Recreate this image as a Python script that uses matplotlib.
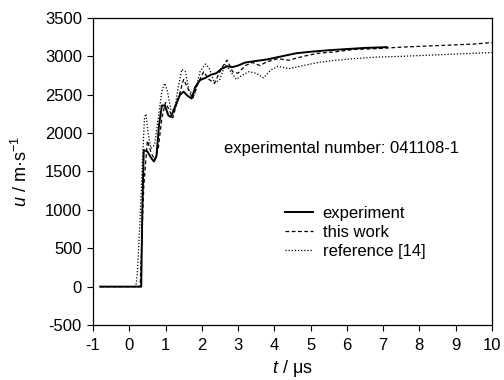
import numpy as np
import matplotlib
matplotlib.use('Agg')
import matplotlib.pyplot as plt

plt.rcParams['font.family'] = ['Liberation Sans', 'DejaVu Sans']
plt.rcParams['mathtext.fontset'] = 'custom'
plt.rcParams['mathtext.rm'] = 'Liberation Sans'
plt.rcParams['mathtext.it'] = 'Liberation Sans:italic'
plt.rcParams['axes.unicode_minus'] = False

# experiment (solid)
t_exp = [-0.8, 0.33, 0.36, 0.4, 0.5, 0.6, 0.68, 0.75, 0.82, 0.9, 0.98, 1.08, 1.15,
         1.25, 1.4, 1.5, 1.6, 1.72, 1.82, 1.95, 2.1, 2.25, 2.4, 2.55, 2.7, 2.85,
         3.0, 3.2, 3.5, 3.8, 4.2, 4.6, 5.0, 5.5, 6.0, 6.5, 7.1]
u_exp = [0, 0, 1000, 1780, 1760, 1680, 1630, 1700, 2100, 2360, 2360, 2230, 2210,
         2330, 2500, 2540, 2490, 2450, 2600, 2690, 2720, 2760, 2780, 2840, 2870, 2860,
         2880, 2920, 2940, 2960, 3000, 3040, 3060, 3080, 3095, 3110, 3120]

# this work (dashed)
t_work = [-0.8, 0.3, 0.4, 0.5, 0.6, 0.7, 0.8, 0.9, 1.0, 1.1, 1.2, 1.35, 1.5, 1.6,
          1.75, 1.9, 2.05, 2.2, 2.35, 2.55, 2.7, 2.85, 3.0, 3.2, 3.4, 3.6, 3.8,
          4.1, 4.4, 4.8, 5.2, 5.7, 6.2, 6.8, 7.5, 8.0, 8.5, 9.0, 9.5, 10.0]
u_work = [0, 0, 1300, 1900, 1750, 1650, 1800, 2200, 2400, 2300, 2200, 2450, 2700, 2600,
          2450, 2650, 2800, 2700, 2650, 2850, 2950, 2800, 2780, 2880, 2920, 2880, 2930,
          2970, 2950, 3000, 3040, 3060, 3090, 3100, 3120, 3130, 3140, 3150, 3160, 3180]

# reference [14] (dotted)
t_ref = [-0.8, 0.18, 0.22, 0.3, 0.36, 0.42, 0.46, 0.52, 0.6, 0.7, 0.8, 0.9, 0.98,
         1.05, 1.15, 1.25, 1.35, 1.45, 1.55, 1.65, 1.8, 1.95, 2.1, 2.2, 2.35, 2.5,
         2.65, 2.8, 2.95, 3.1, 3.3, 3.5, 3.7, 3.9, 4.1, 4.4, 4.8, 5.2, 5.7, 6.2,
         6.8, 7.5, 8.0, 8.5, 9.0, 9.5, 10.0]
u_ref = [0, 0, 150, 900, 1600, 2200, 2250, 2000, 1800, 1850, 2200, 2550, 2650,
         2550, 2300, 2300, 2600, 2830, 2800, 2550, 2500, 2800, 2900, 2850, 2650, 2700,
         2900, 2800, 2700, 2750, 2800, 2780, 2720, 2820, 2870, 2840, 2880, 2920, 2950, 2970,
         2990, 3000, 3010, 3020, 3030, 3040, 3050]

fig = plt.figure(figsize=(5.04, 3.8), dpi=100)
ax = fig.add_axes([0.1845, 0.1447, 0.7915, 0.808])

ax.plot(t_exp, u_exp, color='black', linestyle='-', linewidth=1.4, label='experiment')
ax.plot(t_work, u_work, color='black', linestyle=(0, (3, 2)), linewidth=0.9, label='this work')
ax.plot(t_ref, u_ref, color='black', linestyle=(0, (1, 1.5)), linewidth=0.9, label='reference [14]')

ax.set_xlim(-1, 10)
ax.set_ylim(-500, 3500)
ax.set_xticks(range(-1, 11))
ax.set_yticks(range(-500, 3501, 500))
ax.tick_params(direction='out', length=4, width=0.8, labelsize=12)
ax.tick_params(axis='x', pad=5)
ax.tick_params(axis='y', pad=4)
for s in ax.spines.values():
    s.set_linewidth(0.9)

ax.set_xlabel(r'$\it{t}$ / μs', fontsize=13, labelpad=4)
ax.set_ylabel(r'$\it{u}$ / m·s$^{-1}$', fontsize=13, labelpad=10)

ax.text(5.85, 1800, 'experimental number: 041108-1', fontsize=12, ha='center', va='center')

ax.legend(loc='upper left', bbox_to_anchor=(0.461, 0.415), frameon=False, fontsize=12,
          handlelength=1.65, handletextpad=0.6, labelspacing=0.25, borderpad=0)

fig.savefig('out.png', dpi=100)
